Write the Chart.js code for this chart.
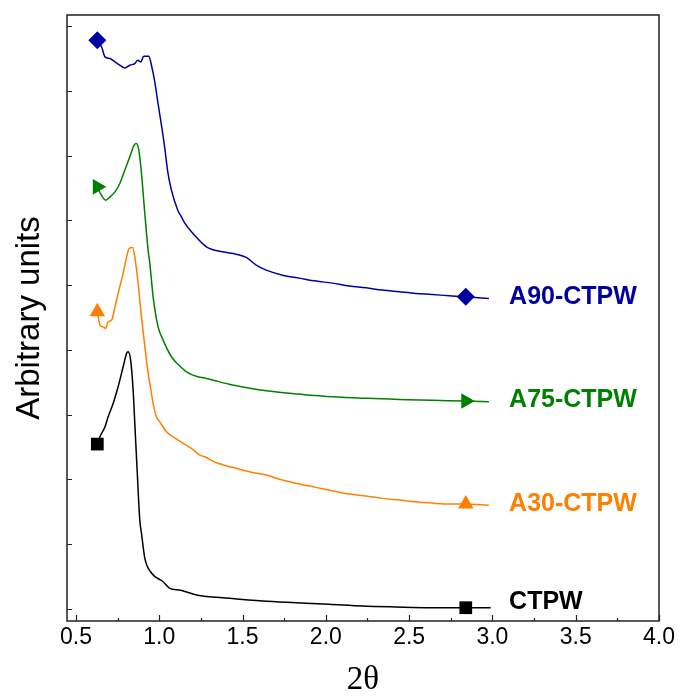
<!DOCTYPE html>
<html>
<head>
<meta charset="utf-8">
<script src="https://cdn.jsdelivr.net/npm/chart.js@4.4.1/dist/chart.umd.min.js"></script>
<style>
  body { margin: 0; background: #fff; }
  #myChart { display: block; }
</style>
</head>
<body>
<canvas id="myChart" width="683" height="700"></canvas>
<script>
// axis ticks
const xTicks = [0.5, 1.0, 1.5, 2.0, 2.5, 3.0, 3.5, 4.0];
const xMinorTicks = [0.75, 1.25, 1.75, 2.25, 2.75, 3.25, 3.75];
const yTicks = [0, 1, 2, 3, 4, 5, 6, 7, 8, 9];

// A90-CTPW (blue)
const a90X = [0.628, 0.654, 0.674, 0.704, 0.734, 0.763, 0.793, 0.823, 0.853, 0.871, 0.889, 0.907, 0.937,
  0.953, 0.973, 0.991, 1.013, 1.033, 1.051, 1.073, 1.111, 1.133, 1.153, 1.201, 1.283, 1.380, 1.462, 1.522,
  1.582, 1.642, 1.740, 1.841, 1.941, 2.039, 2.141, 2.241, 2.338, 2.440, 2.540, 2.638, 2.740, 2.840, 2.979];
const a90Y = [8.781, 8.677, 8.523, 8.498, 8.446, 8.395, 8.353, 8.395, 8.421, 8.472, 8.446, 8.534, 8.534,
  8.395, 8.137, 7.829, 7.469, 7.114, 6.748, 6.466, 6.157, 6.054, 5.957, 5.802, 5.591, 5.514, 5.478, 5.427,
  5.309, 5.231, 5.154, 5.108, 5.062, 5.031, 4.985, 4.958, 4.923, 4.897, 4.872, 4.856, 4.835, 4.819, 4.795];

// A75-CTPW (green)
const a75X = [0.628, 0.652, 0.678, 0.704, 0.734, 0.763, 0.793, 0.823, 0.849, 0.863, 0.877, 0.893, 0.913,
  0.933, 0.943, 0.963, 0.993, 1.023, 1.073, 1.111, 1.163, 1.231, 1.283, 1.440, 1.642, 1.841, 2.039, 2.241,
  2.440, 2.638, 2.840, 2.979];
const a75Y = [6.517, 6.389, 6.312, 6.363, 6.440, 6.569, 6.775, 6.980, 7.160, 7.187, 7.083, 6.728, 6.111,
  5.540, 5.340, 4.819, 4.356, 4.151, 3.894, 3.781, 3.662, 3.585, 3.560, 3.457, 3.369, 3.318, 3.276, 3.252,
  3.236, 3.221, 3.210, 3.199];

// A30-CTPW (orange)
const a30X = [0.628, 0.644, 0.663, 0.678, 0.693, 0.714, 0.734, 0.753, 0.783, 0.804, 0.819, 0.840, 0.853,
  0.873, 0.893, 0.909, 0.933, 0.943, 0.963, 0.983, 1.003, 1.043, 1.113, 1.143, 1.193, 1.243, 1.272, 1.343,
  1.440, 1.542, 1.642, 1.740, 1.841, 1.941, 2.039, 2.141, 2.241, 2.338, 2.440, 2.540, 2.638, 2.740, 2.840, 2.979];
const a30Y = [4.588, 4.383, 4.356, 4.332, 4.434, 4.460, 4.665, 4.872, 5.181, 5.437, 5.566, 5.582, 5.437,
  5.026, 4.511, 4.151, 3.637, 3.488, 3.174, 2.968, 2.890, 2.736, 2.608, 2.557, 2.480, 2.377, 2.350, 2.258,
  2.187, 2.119, 2.068, 1.991, 1.929, 1.878, 1.826, 1.775, 1.744, 1.708, 1.682, 1.656, 1.636, 1.620, 1.620, 1.600];

// CTPW (black)
const ctpwX = [0.628, 0.644, 0.674, 0.693, 0.723, 0.753, 0.783, 0.804, 0.813, 0.828, 0.843, 0.853, 0.867,
  0.883, 0.893, 0.913, 0.953, 1.023, 1.063, 1.123, 1.223, 1.422, 1.622, 1.822, 2.021, 2.220, 2.420, 2.620,
  2.840, 2.989];
const ctpwY = [2.546, 2.659, 2.813, 2.968, 3.174, 3.431, 3.739, 3.946, 3.971, 3.843, 3.380, 2.870, 2.145,
  1.373, 1.173, 0.787, 0.556, 0.421, 0.319, 0.293, 0.216, 0.165, 0.123, 0.097, 0.073, 0.046, 0.031, 0.020,
  0.020, 0.020];

const seriesNames = ['A90-CTPW', 'A75-CTPW', 'A30-CTPW', 'CTPW'];
const seriesX = [a90X, a75X, a30X, ctpwX];
const seriesY = [a90Y, a75Y, a30Y, ctpwY];
const seriesColors = ['#0000a0', '#008000', '#ff8000', '#000000'];
const markerStyles = ['rectRot', 'triangle', 'triangle', 'rect'];
const markerRotation = [0, 90, 0, 0];
const markerX = 2.84;
const labelX = 3.10;
const labelY = [4.815, 3.218, 1.620, 0.100];

function buildDatasets() {
  let datasets = [];
  for (let i = 0; i < seriesNames.length; i++) {
    let points = seriesX[i].map((x, j) => ({ x: x, y: seriesY[i][j] }));
    datasets.push({
      label: seriesNames[i],
      data: points,
      borderColor: seriesColors[i],
      backgroundColor: seriesColors[i],
      borderWidth: 1.5,
      showLine: true,
      cubicInterpolationMode: 'monotone',
      pointStyle: markerStyles[i],
      rotation: markerRotation[i],
      pointRadius: (c) => (c.dataIndex === 0 || c.raw.x === markerX) ? 9 : 0,
      pointBorderWidth: 0,
      pointHoverRadius: 0
    });
  }
  return datasets;
}

const framePlugin = {
  id: 'framePlugin',
  afterDraw(chart) {
    const ctx = chart.ctx;
    const area = chart.chartArea;
    const xs = chart.scales.x;
    const ys = chart.scales.y;
    ctx.save();
    ctx.strokeStyle = '#222';
    ctx.lineWidth = 1.5;
    ctx.strokeRect(area.left, area.top, area.right - area.left, area.bottom - area.top);
    ctx.lineWidth = 1.2;
    ctx.beginPath();
    xTicks.forEach(v => {
      const px = Math.round(xs.getPixelForValue(v)) + 0.5;
      ctx.moveTo(px, area.bottom);
      ctx.lineTo(px, area.bottom - 6);
    });
    xMinorTicks.forEach(v => {
      const px = Math.round(xs.getPixelForValue(v)) + 0.5;
      ctx.moveTo(px, area.bottom);
      ctx.lineTo(px, area.bottom - 3);
    });
    yTicks.forEach(v => {
      const py = Math.round(ys.getPixelForValue(v)) + 0.5;
      ctx.moveTo(area.left, py);
      ctx.lineTo(area.left + 5, py);
    });
    ctx.stroke();

    ctx.font = 'bold 25px "Liberation Sans", Arial, sans-serif';
    ctx.textBaseline = 'middle';
    ctx.textAlign = 'left';
    for (let i = 0; i < seriesNames.length; i++) {
      ctx.fillStyle = seriesColors[i];
      ctx.fillText(seriesNames[i], xs.getPixelForValue(labelX), ys.getPixelForValue(labelY[i]));
    }
    ctx.restore();
  }
};

const ctx = document.getElementById('myChart').getContext('2d');
const myChart = new Chart(ctx, {
  type: 'scatter',
  data: { datasets: buildDatasets() },
  options: {
    responsive: false,
    animation: false,
    events: [],
    layout: { padding: { left: 0, right: 24, top: 15, bottom: 0 } },
    plugins: {
      legend: { display: false },
      tooltip: { enabled: false }
    },
    scales: {
      x: {
        type: 'linear',
        min: 0.446,
        max: 4.0,
        afterBuildTicks: (scale) => { scale.ticks = xTicks.map(v => ({ value: v })); },
        afterFit: (scale) => { scale.height = 79; },
        grid: { display: false, drawTicks: false },
        border: { display: false },
        ticks: {
          color: '#000',
          padding: 3,
          maxRotation: 0,
          font: { family: '"Liberation Sans", Arial, sans-serif', size: 23 },
          callback: (v) => Number(v).toFixed(1)
        },
        title: {
          display: true,
          text: '2θ',
          color: '#000',
          padding: { top: 0, bottom: 0 },
          font: { family: '"Liberation Serif", "Times New Roman", serif', size: 33 }
        }
      },
      y: {
        type: 'linear',
        min: -0.185,
        max: 9.17,
        afterBuildTicks: (scale) => { scale.ticks = yTicks.map(v => ({ value: v })); },
        afterFit: (scale) => { scale.width = 67; },
        grid: { display: false, drawTicks: false },
        border: { display: false },
        ticks: { display: false },
        title: {
          display: true,
          text: 'Arbitrary units',
          color: '#000',
          padding: { top: 10, bottom: 4 },
          font: { family: '"Liberation Sans", Arial, sans-serif', size: 33 }
        }
      }
    }
  },
  plugins: [framePlugin]
});
</script>
</body>
</html>
